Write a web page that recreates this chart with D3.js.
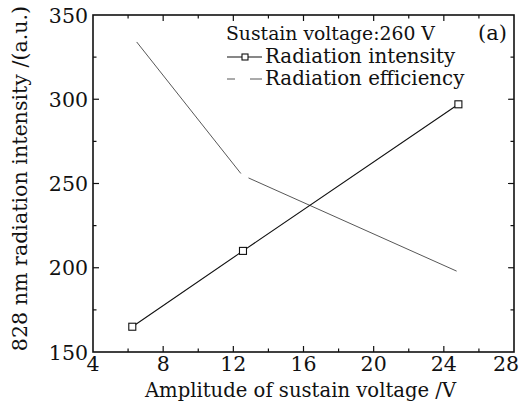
<!DOCTYPE html>
<html><head><meta charset="utf-8">
<script src="https://cdn.jsdelivr.net/npm/d3@7"></script>
<style>body{margin:0;background:#fff}svg{display:block}text{font-family:"DejaVu Serif",serif;fill:#111}</style>
</head><body><svg id="c" width="520" height="407"></svg>
<script>
const intensityX = [6.24, 12.55, 24.83];
const intensityY = [165, 210, 297];
const efficiencyX = [6.49, 12.5, 24.73];
const efficiencyY = [334, 255, 198];
const xTicks = [4, 8, 12, 16, 20, 24, 28];
const yTicks = [150, 200, 250, 300, 350];
const legendTitle = "Sustain voltage:260 V";
const seriesNames = ["Radiation intensity", "Radiation efficiency"];
const panelLabel = "(a)";
const xTitle = "Amplitude of sustain voltage /V";
const yTitle = "828 nm radiation intensity /(a.u.)";

const svg = d3.select("#c");
const L = 93, R = 514, T = 15, B = 352;
const x = d3.scaleLinear().domain([4, 28]).range([L, R]);
const y = d3.scaleLinear().domain([150, 350]).range([B, T]);

const g = svg.append("g");
const minorX = d3.range(6, 28, 4), minorY = d3.range(175, 350, 50);
g.append("rect").attr("x", L).attr("y", T).attr("width", R - L).attr("height", B - T)
  .attr("fill", "none").attr("stroke", "#111").attr("stroke-width", 1.6);
function ticksX(vals, len, yPos, dir) {
  g.selectAll(null).data(vals).join("line")
    .attr("x1", d => x(d)).attr("x2", d => x(d))
    .attr("y1", yPos).attr("y2", yPos + dir * len)
    .attr("stroke", "#111").attr("stroke-width", 1.2);
}
function ticksY(vals, len, xPos, dir) {
  g.selectAll(null).data(vals).join("line")
    .attr("y1", d => y(d)).attr("y2", d => y(d))
    .attr("x1", xPos).attr("x2", xPos + dir * len)
    .attr("stroke", "#111").attr("stroke-width", 1.2);
}
ticksX(xTicks.slice(1, -1), 6, B, -1); ticksX(minorX, 3.5, B, -1);
ticksX(xTicks.slice(1, -1), 6, T, 1); ticksX(minorX, 3.5, T, 1);
ticksY(yTicks.slice(1, -1), 6, L, 1); ticksY(minorY, 3.5, L, 1);
ticksY(yTicks.slice(1, -1), 6, R, -1); ticksY(minorY, 3.5, R, -1);

// tick labels
const last = xTicks.length - 1;
g.selectAll(null).data(xTicks).join("text")
  .attr("x", (d, i) => i === last ? 519 : x(d)).attr("y", B + 19)
  .attr("text-anchor", (d, i) => i === last ? "end" : "middle")
  .attr("font-size", 20.5).text(d => d);
g.selectAll(null).data(yTicks).join("text")
  .attr("x", L - 5).attr("y", d => y(d) + 7.5).attr("text-anchor", "end")
  .attr("font-size", 20.5).text(d => d);

// titles
g.append("text").attr("x", (L + R) / 2 - 3).attr("y", 397).attr("text-anchor", "middle")
  .attr("font-size", 19.6).text(xTitle);
g.append("text").attr("transform", `translate(27,${(T + B) / 2 - 5}) rotate(-90)`)
  .attr("text-anchor", "middle").attr("font-size", 20.6).text(yTitle);

// efficiency line
const line = d3.line().x(d => x(d[0])).y(d => y(d[1]));
const effData = efficiencyX.map((v, i) => [v, efficiencyY[i]]);
const effPath = g.append("path").datum(effData).attr("d", line)
  .attr("fill", "none").attr("stroke", "#444").attr("stroke-width", 0.9);
const l1 = Math.hypot(x(effData[1][0]) - x(effData[0][0]), y(effData[1][1]) - y(effData[0][1]));
effPath.attr("stroke-dasharray", `${l1 - 2} 9 2000`);

// intensity line
const intData = intensityX.map((v, i) => [v, intensityY[i]]);
g.append("path").datum(intData).attr("d", line)
  .attr("fill", "none").attr("stroke", "#111").attr("stroke-width", 1.1);
g.selectAll(null).data(intData).join("rect")
  .attr("x", d => x(d[0]) - 3.5).attr("y", d => y(d[1]) - 3.5)
  .attr("width", 7).attr("height", 7).attr("fill", "#fff").attr("stroke", "#111").attr("stroke-width", 1.1);

// legend
g.append("text").attr("x", 226).attr("y", 40).attr("font-size", 18.8).text(legendTitle);
g.append("text").attr("x", 507).attr("y", 40).attr("text-anchor", "end").attr("font-size", 21).text(panelLabel);
g.append("line").attr("x1", 227).attr("x2", 262).attr("y1", 57).attr("y2", 57).attr("stroke", "#111").attr("stroke-width", 1.1);
g.append("rect").attr("x", 242).attr("y", 54).attr("width", 6).attr("height", 6).attr("fill", "#fff").attr("stroke", "#111").attr("stroke-width", 1.1);
g.append("text").attr("x", 265).attr("y", 63).attr("font-size", 19.8).text(seriesNames[0]);
g.append("line").attr("x1", 227).attr("x2", 262).attr("y1", 79).attr("y2", 79).attr("stroke", "#444").attr("stroke-width", 0.9)
  .attr("stroke-dasharray", "8 15 12");
g.append("text").attr("x", 265).attr("y", 85).attr("font-size", 19.8).text(seriesNames[1]);
</script></body></html>
